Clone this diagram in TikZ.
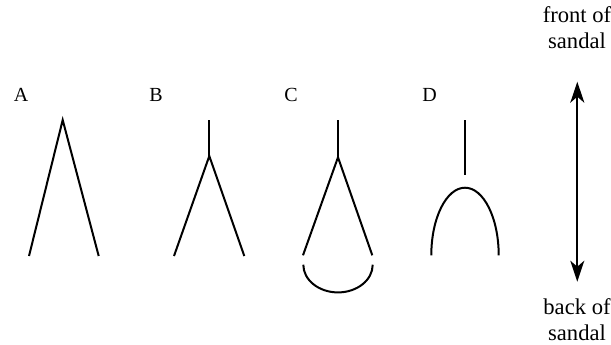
\documentclass[tikz,border=0pt]{standalone}
\usepackage{fontspec}
\setmainfont{Liberation Serif}
\usetikzlibrary{arrows.meta,positioning}

\begin{document}
\begin{tikzpicture}[
    x=0.5pt, y=-0.5pt,
    strap/.style={line width=1pt},
    letter/.style={font=\fontsize{10}{12}\selectfont, anchor=base, inner sep=0pt},
    sidetext/.style={font=\fontsize{11.3}{13.1}\selectfont, align=center, anchor=base, inner sep=0pt},
    direction/.style={{Stealth[length=10.5pt, width=7pt, inset=3pt]}-{Stealth[length=10.5pt, width=7pt, inset=3pt]}, line width=1pt}
]
    \useasboundingbox (0,0) rectangle (611,344);

    % labels
    \node[letter] (labA) at (21,101.7) {A};
    \node[letter] (labB) at (156,101.7) {B};
    \node[letter] (labC) at (291,101.7) {C};
    \node[letter] (labD) at (429.5,101.7) {D};

    % A
    \draw[strap] (29,256) -- (62.7,120) -- (98.7,256);

    % B
    \draw[strap] (209.3,120) -- (209.3,156);
    \draw[strap] (174,256) -- (209.3,156) -- (244.3,256);

    % C
    \draw[strap] (338,120) -- (338,157.3);
    \draw[strap] (303,255.3) -- (338,157.3) -- (372.3,255.3);
    \draw[strap] (303.3,264.7) arc[start angle=180, end angle=0, x radius=34.7, y radius=27.7];

    % D
    \draw[strap] (465,120) -- (465,174.7);
    \draw[strap] (431.3,255.3) arc[start angle=180, end angle=360, x radius=33.7, y radius=67.6];

    % direction of the sandal
    \node[sidetext] (front) at (577,48.5) {front of\\sandal};
    \node[sidetext] (back) at (577,340.5) {back of\\sandal};
    \coordinate (fronttip) at (577.3,81.7);
    \coordinate (backtip) at (577.3,281.7);
    \draw[direction] (backtip) -- (fronttip);
\end{tikzpicture}
\end{document}
